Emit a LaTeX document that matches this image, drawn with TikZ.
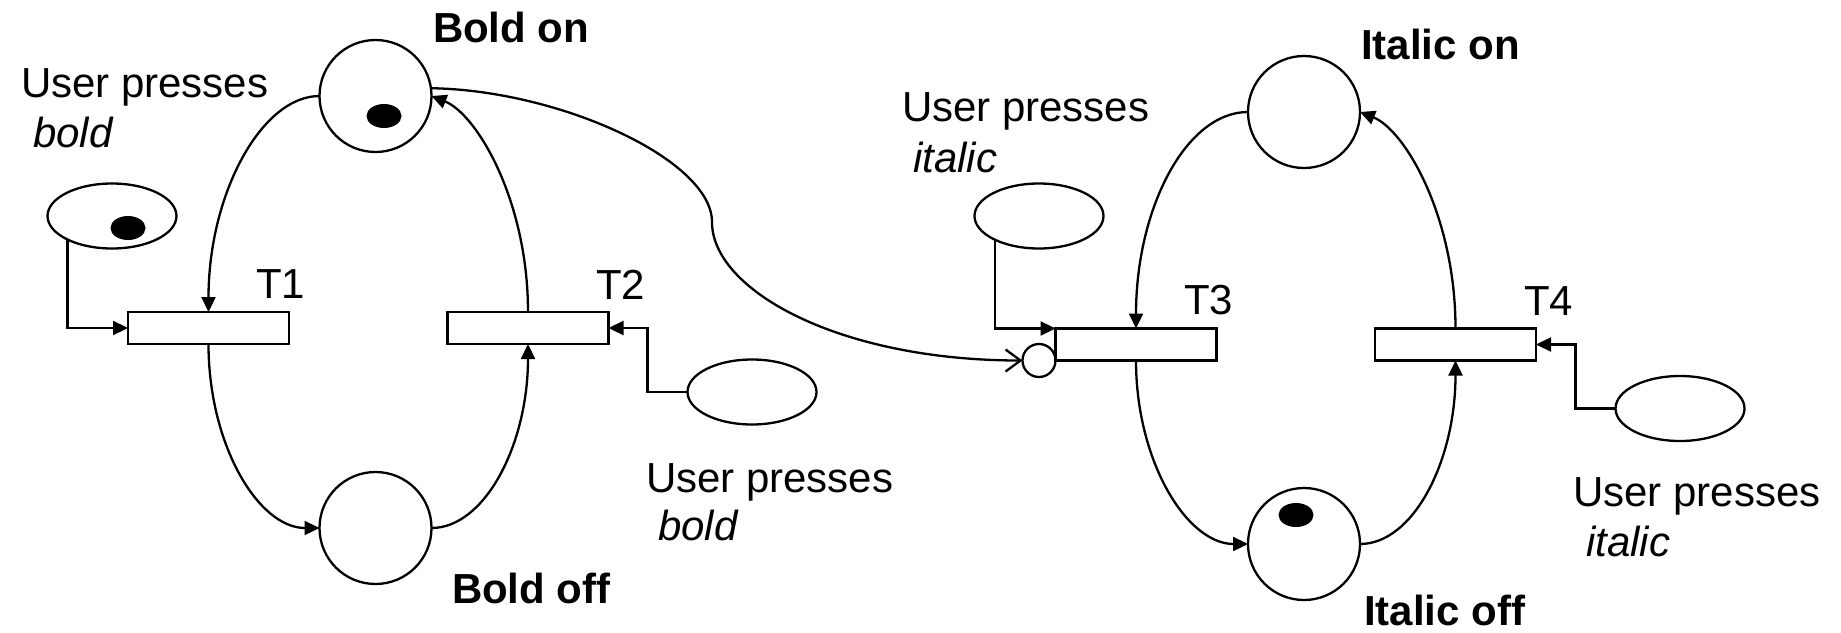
\documentclass[tikz,border=0pt]{standalone}
\usepackage{fontspec}
\setmainfont{Liberation Sans}
\usetikzlibrary{shapes.geometric,arrows.meta}

\begin{document}
\begin{tikzpicture}[x=1pt,y=-1pt,
  line width=2.3pt,
  every node/.style={inner sep=0pt, outer sep=0pt},
  pplace/.style={circle, draw, minimum size=112pt},
  pinput/.style={ellipse, draw, minimum width=129pt, minimum height=65pt},
  ptoken/.style={ellipse, fill=black, minimum width=35pt, minimum height=24pt},
  ptrans/.style={rectangle, draw, minimum width=161pt, minimum height=32pt},
  pinhib/.style={circle, draw, minimum size=33pt},
  flow/.style={-{Triangle[length=15pt,width=14pt]}},
  readflow/.style={-{Straight Barb[length=15pt,width=22pt]}},
  lbl/.style={anchor=base west, font=\fontsize{42}{50}\selectfont},
  head/.style={anchor=base west, font=\fontsize{42}{50}\selectfont\bfseries},
]
\useasboundingbox (0,0) rectangle (1841,632);

% places of the two nets
\node[pplace] (bon)  at (375.5,96)  {};
\node[pplace] (boff) at (375.5,528) {};
\node[pplace] (ion)  at (1304,112)  {};
\node[pplace] (ioff) at (1304,544)  {};

% transitions
\node[ptrans] (t1) at (208.5,328)  {};
\node[ptrans] (t2) at (528,328)    {};
\node[ptrans] (t3) at (1136,344.5) {};
\node[ptrans] (t4) at (1455.5,344.5) {};

% user input places
\node[pinput] (in1) at (112,216)    {};
\node[pinput] (in2) at (752,392)    {};
\node[pinput] (in3) at (1039,216)   {};
\node[pinput] (in4) at (1680,408.5) {};

% tokens
\node[ptoken] (k1) at (384,116)  {};
\node[ptoken] (k2) at (128,228)  {};
\node[ptoken] (k3) at (1296,515) {};

% inhibitor circle on T3
\node[pinhib, anchor=east] (inh) at (t3.south west) {};

% bold net arcs
\draw[flow] (bon.west) .. controls +(-58,0) and +(0,-118) .. (t1.north);
\draw[flow] (t1.south) .. controls +(0,101) and +(-61,0) .. (boff.west);
\draw[flow] (boff.east) .. controls +(53,0) and +(0,101) .. (t2.south);
\draw[flow] (t2.north) .. controls +(0,-112) and +(45,18) .. (bon.east);

% italic net arcs
\draw[flow] (ion.west) .. controls +(-62,0) and +(0,-120) .. (t3.north);
\draw[flow] (t3.south) .. controls +(0,101) and +(-61,0) .. (ioff.west);
\draw[flow] (ioff.east) .. controls +(53,0) and +(0,101) .. (t4.south);
\draw[flow] (t4.north) .. controls +(0,-112) and +(45,18) .. (ion.east);

% user inputs
\draw[flow] (in1.208) |- (t1.west);
\draw[flow] (in2.west) -- ++(-40,0) |- (t2.east);
\draw[flow] (in3.208) |- (t3.north west);
\draw[flow] (in4.west) -- ++(-40,0) |- (t4.east);

% Bold on inhibits T3
\coordinate (bend) at (712,222);
\draw[readflow] (bon.8) .. controls +(129,2) and +(0,-62) .. (bend)
  .. controls +(0,68) and +(-184,0) .. (inh.west);

% labels
\node[head] (lbon)  at (433,42)   {Bold on};
\node[head] (lboff) at (452,603)  {Bold off};
\node[head] (lion)  at (1361,59)  {Italic on};
\node[head] (lioff) at (1364,625) {Italic off};

\node[lbl] (lt1) at (256,298)  {T1};
\node[lbl] (lt2) at (596,299)  {T2};
\node[lbl] (lt3) at (1184,314) {T3};
\node[lbl] (lt4) at (1524,315) {T4};

\node[lbl] (u1)  at (21,97)    {User presses};
\node[lbl] (u1b) at (33,147)   {\itshape bold};
\node[lbl] (u2)  at (646,492)  {User presses};
\node[lbl] (u2b) at (658,540)  {\itshape bold};
\node[lbl] (u3)  at (902,121)  {User presses};
\node[lbl] (u3b) at (913,172)  {\itshape italic};
\node[lbl] (u4)  at (1573,506) {User presses};
\node[lbl] (u4b) at (1586,556) {\itshape italic};
\end{tikzpicture}
\end{document}
